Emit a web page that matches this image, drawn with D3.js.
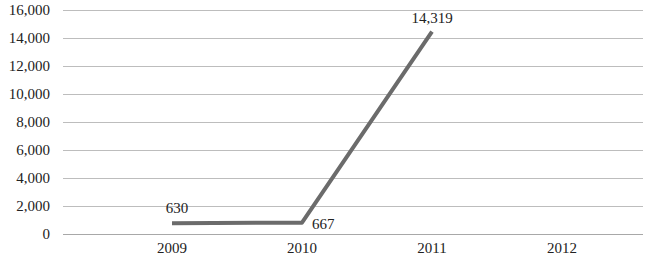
<!DOCTYPE html>
<html>
<head>
<meta charset="utf-8">
<script src="https://cdn.jsdelivr.net/npm/d3@7"></script>
<style>
  body { margin: 0; background: #fff; }
  text { font-family: "Liberation Serif", "DejaVu Serif", serif; fill: #222; }
</style>
</head>
<body>
<svg width="650" height="256"></svg>
<script>
// data
var years = ["2009", "2010", "2011", "2012"]
var values = [630, 667, 14319, null]
var yTicks = [0, 2000, 4000, 6000, 8000, 10000, 12000, 14000, 16000]

var svg = d3.select("svg")

// scales
var x = d3.scalePoint()
    .domain(years)
    .range([172, 562])

var y = d3.scaleLinear()
    .domain([0, 16000])
    .range([234, 10])

var fmt = d3.format(",")

// gridlines
svg.append("g")
  .selectAll("line")
  .data(yTicks)
  .enter()
  .append("line")
    .attr("x1", 63)
    .attr("x2", 643)
    .attr("y1", function(d){ return Math.round(y(d)) + 0.5 })
    .attr("y2", function(d){ return Math.round(y(d)) + 0.5 })
    .attr("stroke", function(d){ return d == 0 ? "#a8a8a8" : "#bdbdbd" })
    .attr("stroke-width", 1)

// y labels
svg.append("g")
  .selectAll("text")
  .data(yTicks)
  .enter()
  .append("text")
    .attr("x", 50)
    .attr("y", function(d){ return y(d) })
    .attr("dy", "0.35em")
    .attr("text-anchor", "end")
    .style("font-size", "15px")
    .text(function(d){ return fmt(d) })

// x labels
svg.append("g")
  .selectAll("text")
  .data(years)
  .enter()
  .append("text")
    .attr("x", function(d){ return x(d) })
    .attr("y", 253)
    .attr("text-anchor", "middle")
    .style("font-size", "15px")
    .text(function(d){ return d })

// the line (sits a touch above the grid, like the original)
var pts = years.map(function(d, i){ return {year: d, v: values[i]} })
  .filter(function(d){ return d.v != null })

var g = svg.append("g").attr("transform", "translate(0,-2)")

var line = d3.line()
  .x(function(d){ return x(d.year) })
  .y(function(d){ return y(d.v) })

g.append("path")
  .datum(pts)
  .attr("d", line)
  .attr("fill", "none")
  .attr("stroke", "#6b6b6b")
  .attr("stroke-width", 4)
  .attr("stroke-linejoin", "round")

// data labels
var labelPos = [
  {dx: 5, dy: -10, anchor: "middle"},
  {dx: 10, dy: 6, anchor: "start"},
  {dx: 0, dy: -9, anchor: "middle"}
]
g.selectAll("text")
  .data(pts)
  .enter()
  .append("text")
    .attr("x", function(d, i){ return x(d.year) + labelPos[i].dx })
    .attr("y", function(d, i){ return y(d.v) + labelPos[i].dy })
    .attr("text-anchor", function(d, i){ return labelPos[i].anchor })
    .style("font-size", "15px")
    .text(function(d){ return fmt(d.v) })
</script>
</body>
</html>
